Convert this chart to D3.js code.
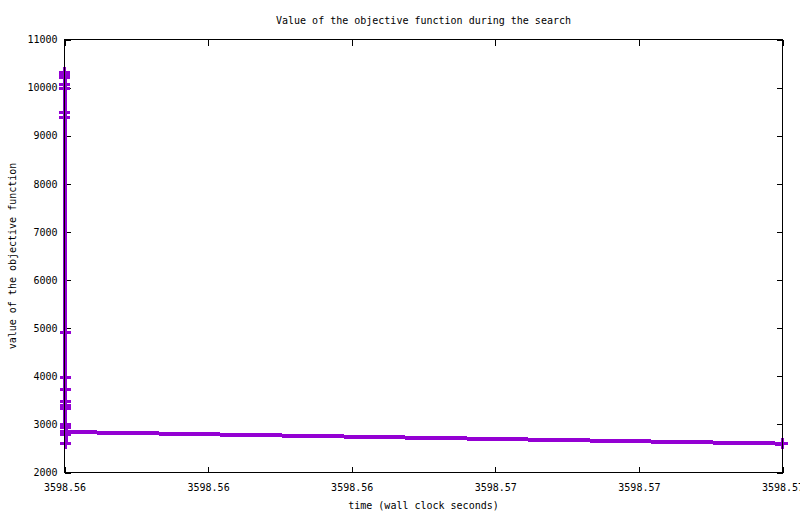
<!DOCTYPE html>
<html>
<head>
<meta charset="utf-8">
<script src="https://cdn.jsdelivr.net/npm/d3@7"></script>
<style>
  body { margin: 0; background: #fff; }
  text { font-family: "DejaVu Sans Mono", monospace; font-size: 10px; fill: #000; }
</style>
</head>
<body>
<div class="canva"></div>
<script>
// datos (tiempo en segundos, valor de la funcion objetivo)
const times = [
  3598.560000, 3598.560001, 3598.560002, 3598.560003, 3598.560004,
  3598.560005, 3598.560006, 3598.560007, 3598.560008, 3598.560009,
  3598.560010, 3598.560011, 3598.560012, 3598.560013, 3598.560014,
  3598.560015, 3598.560016, 3598.560017, 3598.570000
];
const values = [
  10316, 10264, 10212, 10066, 9983,
  9484, 9380, 4909, 3975, 3715,
  3472, 3393, 3330, 3008, 2925,
  2780, 2607, 2842, 2600
];
const xTicks = [3598.560, 3598.562, 3598.564, 3598.566, 3598.568, 3598.570];
const yTicks = [2000, 3000, 4000, 5000, 6000, 7000, 8000, 9000, 10000, 11000];

const titleText = "Value of the objective function during the search";
const xLabel = "time (wall clock seconds)";
const yLabel = "value of the objective function";

const W = 800, H = 514;
const pLeft = 64.5, pRight = 782.5, pTop = 39.5, pBottom = 472.5;
const color = "#9400d3";

const svg = d3.select(".canva").append("svg")
  .attr("width", W)
  .attr("height", H);

const x = d3.scaleLinear().domain([3598.560, 3598.570]).range([pLeft, pRight]);
const y = d3.scaleLinear().domain([2000, 11000]).range([pBottom, pTop]);

const data = times.map((t, i) => ({ t: t, v: values[i] }));

// ejes (ticks hacia dentro, con espejo arriba y a la derecha)
svg.append("g")
  .attr("transform", `translate(0,${pBottom})`)
  .call(d3.axisBottom(x).tickValues(xTicks).tickFormat(d3.format(".2f")).tickSize(-6).tickPadding(11))
  .call(g => g.select(".domain").remove());
svg.append("g")
  .attr("transform", `translate(0,${pTop})`)
  .call(d3.axisTop(x).tickValues(xTicks).tickFormat("").tickSize(-6))
  .call(g => g.select(".domain").remove());
svg.append("g")
  .attr("transform", `translate(${pLeft},0)`)
  .call(d3.axisLeft(y).tickValues(yTicks).tickFormat(d3.format("d")).tickSize(-6).tickPadding(7))
  .call(g => g.select(".domain").remove());
svg.append("g")
  .attr("transform", `translate(${pRight},0)`)
  .call(d3.axisRight(y).tickValues(yTicks).tickFormat("").tickSize(-6))
  .call(g => g.select(".domain").remove());

svg.selectAll(".tick line").attr("stroke", "#000").attr("shape-rendering", "crispEdges");
svg.selectAll(".tick text")
  .style("font-family", '"DejaVu Sans Mono", monospace')
  .style("font-size", "10px");

// linea y puntos
const line = d3.line().x(d => x(d.t)).y(d => y(d.v));
svg.append("path")
  .datum(data)
  .attr("d", line)
  .attr("fill", "none")
  .attr("stroke", color)
  .attr("stroke-width", 4)
  .attr("shape-rendering", "crispEdges");

svg.selectAll(".pt")
  .data(data)
  .enter()
  .append("path")
  .attr("class", "pt")
  .attr("transform", d => `translate(${x(d.t)},${y(d.v)})`)
  .attr("d", "M-5.5,0H5.5M0,-5.5V5.5")
  .attr("stroke", color)
  .attr("stroke-width", 3)
  .attr("shape-rendering", "crispEdges");

// borde del grafico (encima de los datos)
svg.append("rect")
  .attr("x", pLeft)
  .attr("y", pTop)
  .attr("width", pRight - pLeft)
  .attr("height", pBottom - pTop)
  .attr("fill", "none")
  .attr("stroke", "#000")
  .attr("shape-rendering", "crispEdges");

// textos
const cx = (pLeft + pRight) / 2;
svg.append("text").attr("x", cx).attr("y", 24).attr("text-anchor", "middle").text(titleText);
svg.append("text").attr("x", cx).attr("y", 509).attr("text-anchor", "middle").text(xLabel);
svg.append("text")
  .attr("transform", `translate(16,${(pTop + pBottom) / 2}) rotate(-90)`)
  .attr("text-anchor", "middle")
  .text(yLabel);
</script>
</body>
</html>
